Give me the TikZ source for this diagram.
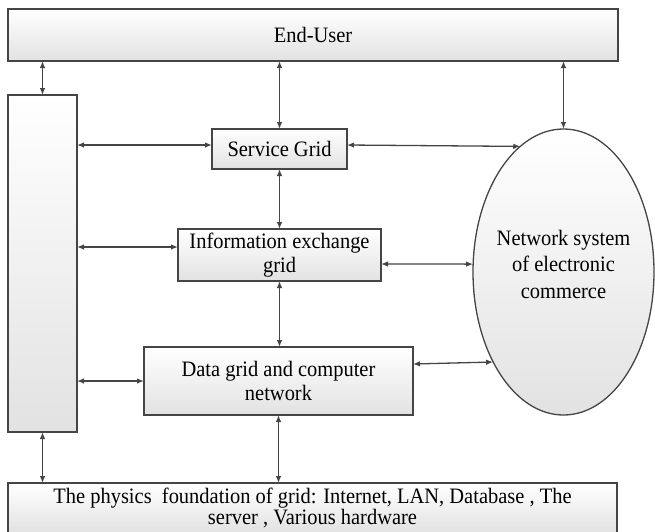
\documentclass[tikz,border=0pt]{standalone}
\usepackage{fontspec}
\setmainfont[FakeStretch=0.93]{Liberation Serif}
\usetikzlibrary{arrows.meta,shapes.geometric,calc}
\definecolor{lc}{HTML}{454545}
\definecolor{fillb}{HTML}{E2E2E2}
\begin{document}
\begin{tikzpicture}[x=1pt,y=-1pt,
  box/.style={draw=lc,line width=1.3pt,rectangle,inner sep=0pt,outer sep=0pt,
    top color=white,bottom color=fillb,align=center,text=black,
    font=\fontsize{22}{23.3}\selectfont},
  arr/.style={draw=lc,line width=1.3pt,{Latex[length=7pt,width=5.5pt]}-{Latex[length=7pt,width=5.5pt]}}]
\clip (0,0) rectangle (655,531);
\fill[white] (0,0) rectangle (655,531);
% nodes
\node[box,minimum width=610pt,minimum height=52pt] (eu) at (313,35) {End-User};
\node[box,minimum width=69pt,minimum height=337pt] (lb) at (42.5,263.5) {};
\node[box,minimum width=135pt,minimum height=40pt] (sg) at (279.5,149) {Service Grid};
\node[box,minimum width=203pt,minimum height=52pt] (ig) at (279.5,255) {Information exchange\\grid};
\node[box,minimum width=269pt,minimum height=68pt] (dg) at (278.5,381) {Data grid and computer\\network};
\node[draw=lc,line width=1.3pt,ellipse,inner sep=0pt,outer sep=0pt,
  top color=white,bottom color=fillb,
  minimum width=181pt,minimum height=286pt] (el) at (563.5,272) {};
\node[align=center,font=\fontsize{22}{26.5}\selectfont] (elt) at ([yshift=8pt]el.center) {Network system\\of electronic\\commerce};
\node[box,minimum width=609pt,minimum height=50pt,font=\fontsize{22}{21}\selectfont] (bb) at (312.5,508)
  {The physics\ \ foundation of grid: Internet, LAN, Database , The\\server , Various hardware};
% connectors
\draw[arr] (eu.south -| lb.north) -- (lb.north);
\draw[arr] (eu.south -| sg.north) -- (sg.north);
\draw[arr] (eu.south -| el.north) -- (el.north);
\draw[arr] ([yshift=4pt]sg.west -| lb.east) -- ([yshift=4pt]sg.west);
\draw[arr] ([yshift=4pt]sg.east) -- (el.109);
\draw[arr] (sg.south) -- (sg.south |- ig.north);
\draw[arr] ([yshift=8pt]ig.west -| lb.east) -- ([yshift=8pt]ig.west);
\draw[arr] ([yshift=-9pt]ig.east) -- (el.175);
\draw[arr] (ig.south) -- (ig.south |- dg.north);
\draw[arr] (lb.east |- dg.west) -- (dg.west);
\draw[arr] ([yshift=17pt]dg.east) -- (el.232);
\draw[arr] (dg.south) -- (dg.south |- bb.north);
\draw[arr] (lb.south) -- (lb.south |- bb.north);
\end{tikzpicture}
\end{document}
